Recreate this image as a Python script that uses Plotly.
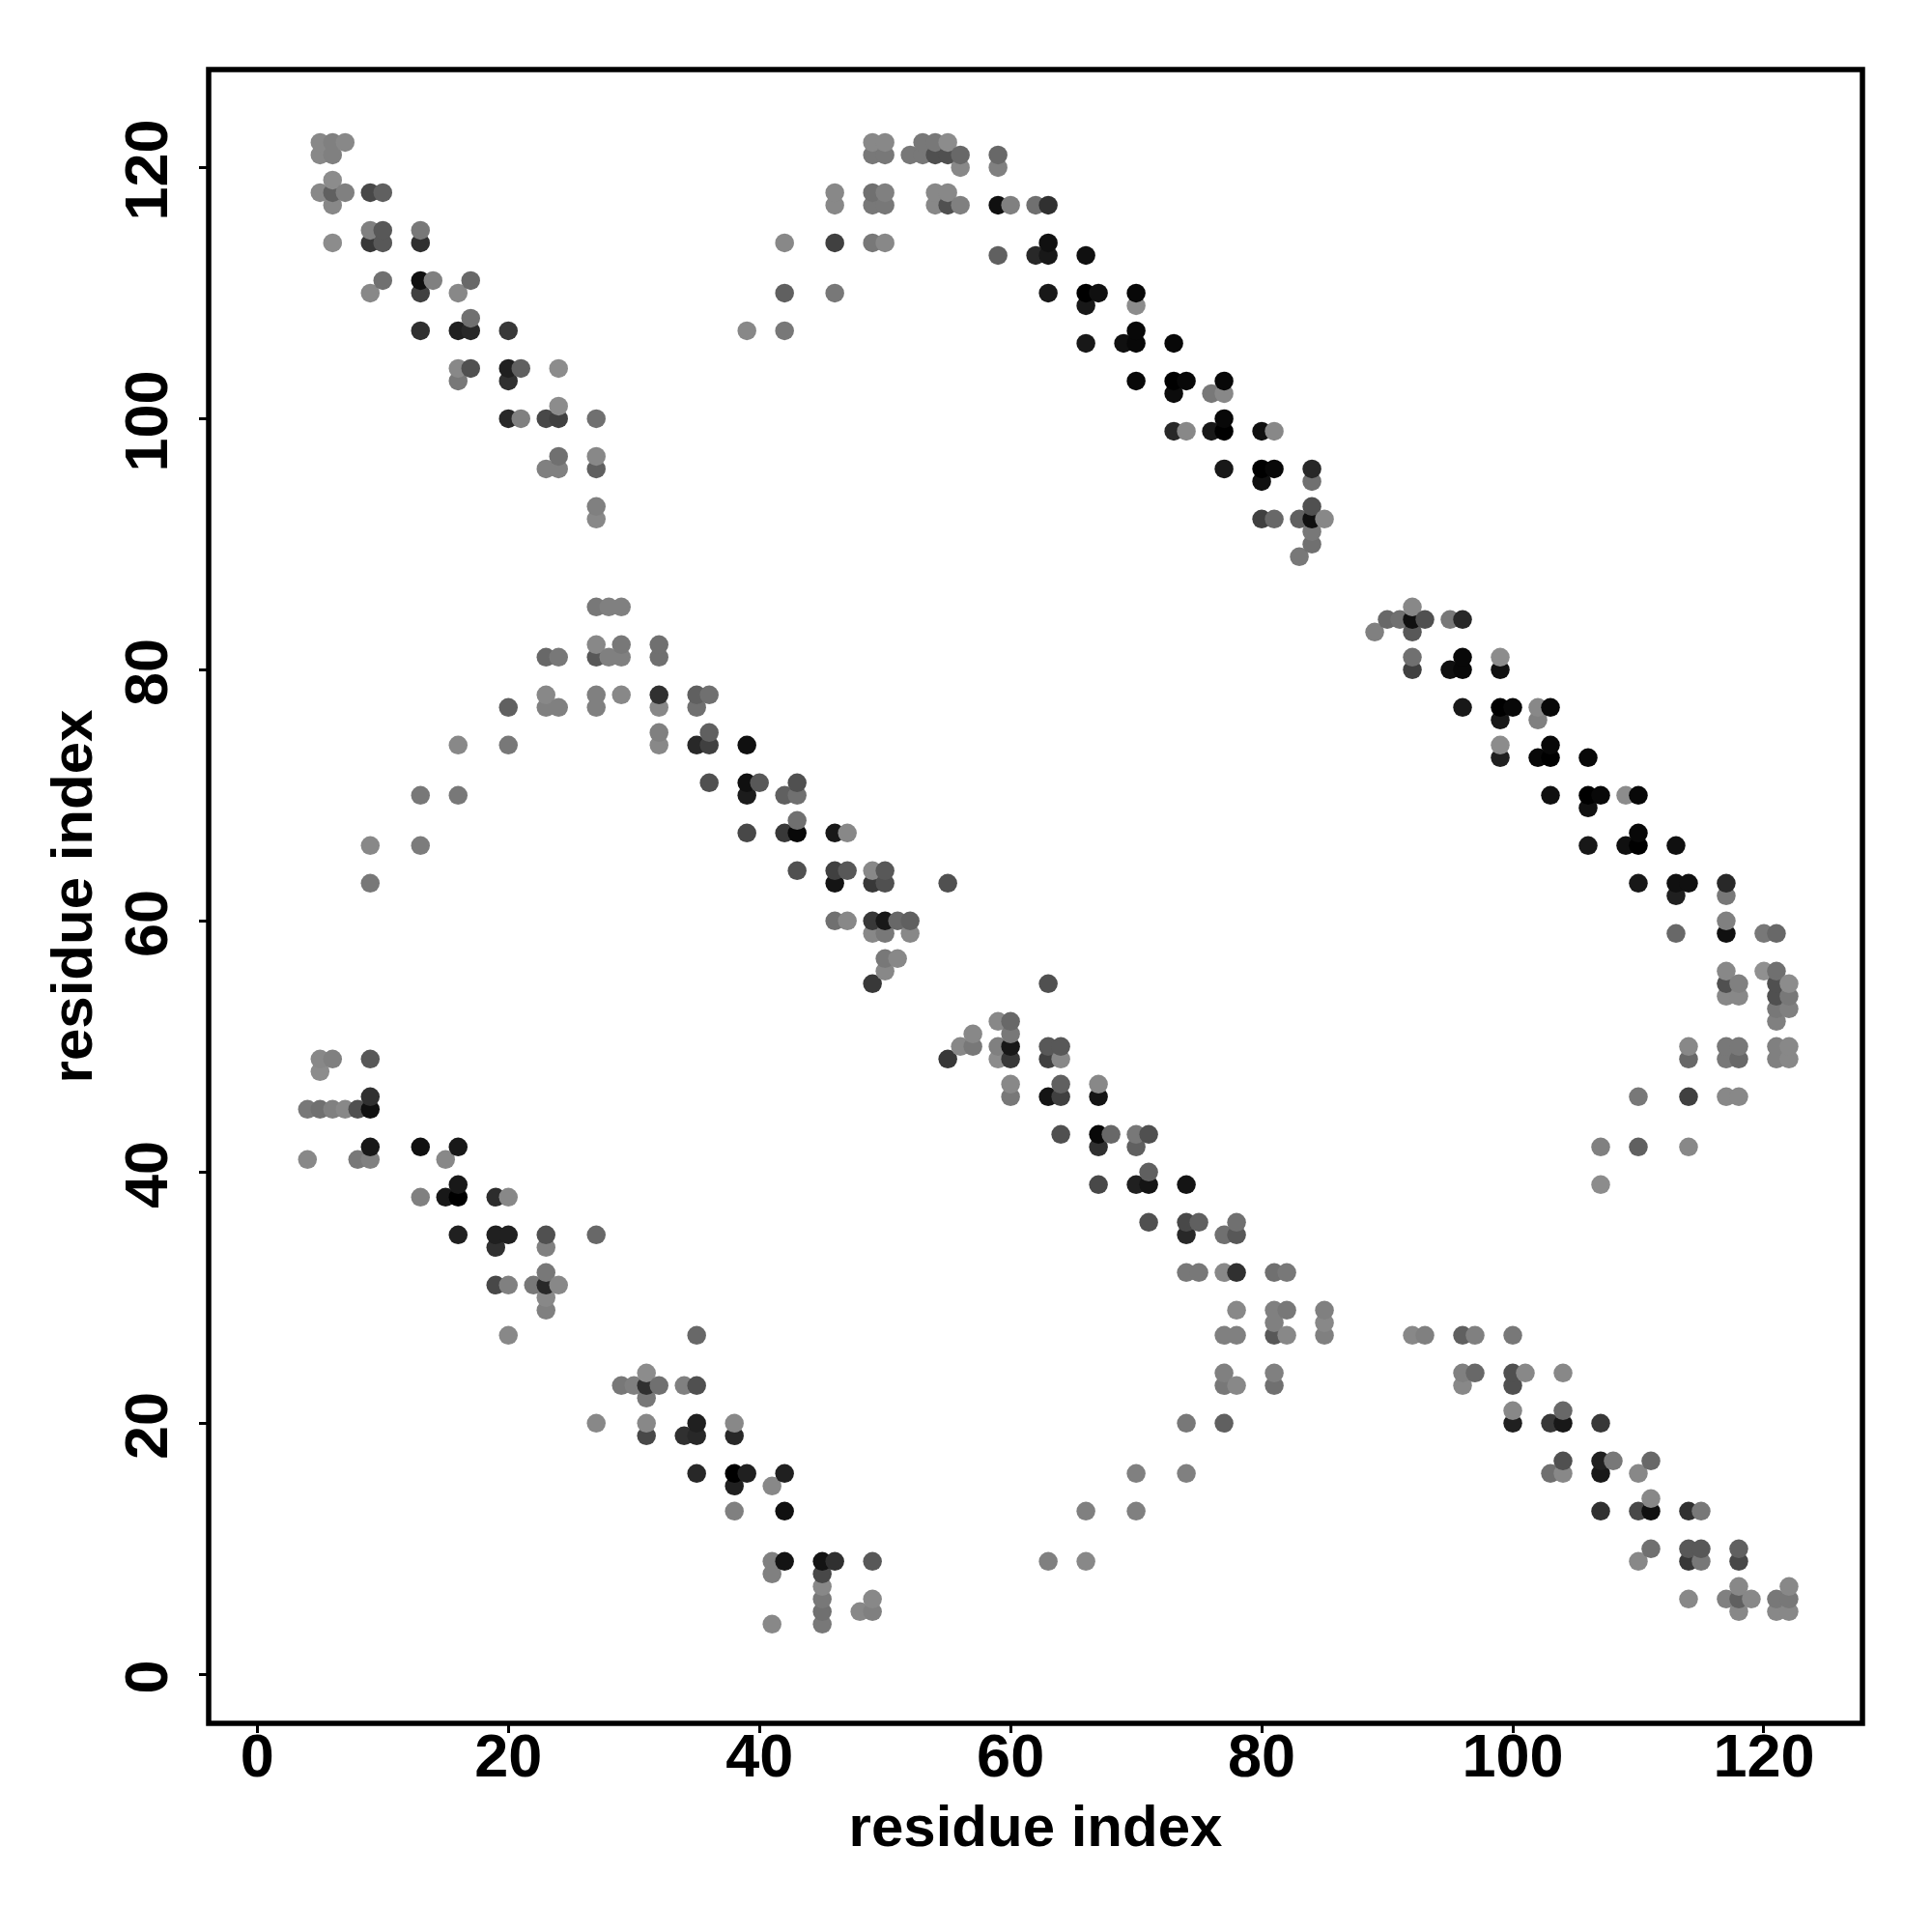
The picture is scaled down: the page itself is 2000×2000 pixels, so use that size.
import plotly.graph_objects as go

# contacts: (residue x, residue y, grey level)
upper_left = [
 (5,122,0x88),(6,122,0x80),(7,122,0x88),(5,121,0x88),(6,121,0x80),(6,119,0x8c),
 (5,118,0x88),(6,118,0x60),(7,118,0x80),(9,118,0x48),(10,118,0x60),(6,117,0x88),
 (9,115,0x80),(10,115,0x58),(13,115,0x78),(6,114,0x8c),(9,114,0x38),(10,114,0x58),(13,114,0x30),
 (10,111,0x70),(13,111,0x10),(14,111,0x80),(17,111,0x68),(9,110,0x88),(13,110,0x40),(16,110,0x88),
 (17,108,0x70),(13,107,0x30),(16,107,0x20),(17,107,0x28),(20,107,0x38),
 (16,104,0x88),(17,104,0x50),(20,104,0x20),(21,104,0x60),(24,104,0x8c),(16,103,0x78),(20,103,0x30),
 (24,101,0x8c),(20,100,0x28),(21,100,0x80),(23,100,0x48),(24,100,0x40),(27,100,0x70),
 (24,97,0x70),(27,97,0x88),(23,96,0x80),(24,96,0x80),(27,96,0x60),(27,93,0x80),(27,92,0x88),
]
upper_mid = [
 (49,122,0x88),(50,122,0x88),(53,122,0x78),(54,122,0x78),(55,122,0x8c),
 (49,121,0x78),(50,121,0x78),(52,121,0x78),(53,121,0x78),(54,121,0x50),(55,121,0x50),(56,121,0x68),(59,121,0x68),
 (56,120,0x88),(59,120,0x80),
 (46,118,0x88),(49,118,0x70),(50,118,0x80),(54,118,0x88),(55,118,0x88),
 (46,117,0x88),(49,117,0x78),(50,117,0x78),(54,117,0x88),(55,117,0x50),(56,117,0x80),(59,117,0x10),(60,117,0x80),(62,117,0x70),(63,117,0x30),
 (42,114,0x88),(46,114,0x40),(49,114,0x78),(50,114,0x88),(63,114,0x10),
 (59,113,0x60),(62,113,0x28),(63,113,0x18),(66,113,0x10),
 (42,110,0x60),(46,110,0x78),(63,110,0x18),(66,110,0x00),(67,110,0x10),(70,110,0x08),
 (66,109,0x18),(70,109,0x8c),(39,107,0x88),(42,107,0x78),(70,107,0x08),
 (66,106,0x18),(69,106,0x10),(70,106,0x08),(73,106,0x08),
 (70,103,0x08),(73,103,0x00),(74,103,0x08),(77,103,0x08),(73,102,0x0c),(76,102,0x78),(77,102,0x88),
 (77,100,0x08),(73,99,0x28),(74,99,0x88),(76,99,0x18),(77,99,0x00),(80,99,0x10),(81,99,0x88),
 (77,96,0x18),(80,96,0x00),(81,96,0x08),(84,96,0x28),(80,95,0x10),(84,95,0x70),(84,93,0x50),
 (80,92,0x40),(81,92,0x68),(83,92,0x60),(84,92,0x10),(85,92,0x88),(84,91,0x78),(84,90,0x70),(83,89,0x78),
]
right_band = [
 (92,85,0x88),(90,84,0x68),(91,84,0x70),(92,84,0x10),(93,84,0x50),(95,84,0x78),(96,84,0x28),
 (89,83,0x80),(92,83,0x58),(92,81,0x70),(96,81,0x08),(99,81,0x8c),
 (92,80,0x40),(95,80,0x10),(96,80,0x08),(99,80,0x10),
 (96,77,0x18),(99,77,0x00),(100,77,0x08),(102,77,0x88),(103,77,0x08),(99,76,0x18),(102,76,0x80),
 (99,74,0x8c),(103,74,0x08),(99,73,0x20),(102,73,0x08),(103,73,0x00),(106,73,0x08),
 (103,70,0x10),(106,70,0x00),(107,70,0x08),(109,70,0x8c),(110,70,0x08),(106,69,0x10),
 (110,67,0x08),(106,66,0x18),(109,66,0x10),(110,66,0x00),(113,66,0x10),
 (110,63,0x18),(113,63,0x10),(114,63,0x10),(117,63,0x28),(113,62,0x20),(117,62,0x78),(117,60,0x80),
 (113,59,0x68),(117,59,0x10),(120,59,0x78),(121,59,0x68),
 (117,56,0x88),(120,56,0x90),(121,56,0x70),(117,55,0x50),(118,55,0x80),(121,55,0x50),(122,55,0x8c),
 (117,54,0x88),(118,54,0x88),(121,54,0x50),(122,54,0x78),(121,53,0x78),(122,53,0x80),(121,52,0x80),
 (114,50,0x88),(117,50,0x78),(118,50,0x78),(121,50,0x80),(122,50,0x88),
 (114,49,0x68),(117,49,0x78),(118,49,0x68),(121,49,0x80),(122,49,0x88),
 (107,42,0x80),(110,42,0x60),(114,42,0x88),(110,46,0x78),(114,46,0x40),(117,46,0x88),(118,46,0x88),(107,39,0x8c),
]
mid_left = [
 (27,85,0x78),(28,85,0x80),(29,85,0x80),(27,82,0x88),(29,82,0x78),(32,82,0x70),
 (23,81,0x68),(24,81,0x78),(27,81,0x58),(28,81,0x80),(29,81,0x80),(32,81,0x70),
 (23,78,0x88),(27,78,0x80),(29,78,0x88),(32,78,0x30),(35,78,0x60),(36,78,0x70),
 (20,77,0x60),(23,77,0x80),(24,77,0x80),(27,77,0x80),(32,77,0x88),(35,77,0x70),
 (32,75,0x80),(36,75,0x60),(16,74,0x88),(20,74,0x78),(32,74,0x88),(35,74,0x28),(36,74,0x40),(39,74,0x10),
 (36,71,0x50),(39,71,0x10),(40,71,0x58),(43,71,0x50),(13,70,0x78),(16,70,0x78),(39,70,0x1c),(42,70,0x60),(43,70,0x70),
 (43,68,0x70),(39,67,0x48),(42,67,0x38),(43,67,0x08),(46,67,0x18),(47,67,0x88),(9,66,0x88),(13,66,0x7c),
 (43,64,0x50),(46,64,0x40),(47,64,0x58),(49,64,0x88),(50,64,0x58),(9,63,0x78),(46,63,0x14),(49,63,0x38),(50,63,0x50),(55,63,0x50),
 (46,60,0x70),(47,60,0x88),(49,60,0x38),(50,60,0x18),(51,60,0x68),(52,60,0x60),(49,59,0x88),(50,59,0x78),(52,59,0x88),
 (50,57,0x78),(51,57,0x88),(50,56,0x88),(49,55,0x38),
]
mid_center = [
 (63,55,0x50),(59,52,0x88),(60,52,0x68),(57,51,0x88),(60,51,0x78),
 (56,50,0x88),(57,50,0x78),(59,50,0x80),(60,50,0x18),(63,50,0x58),(64,50,0x58),
 (55,49,0x38),(59,49,0x8c),(60,49,0x38),(63,49,0x40),(64,49,0x88),
 (60,47,0x88),(64,47,0x60),(67,47,0x88),(60,46,0x78),(63,46,0x14),(64,46,0x40),(67,46,0x14),
 (64,43,0x50),(67,43,0x08),(68,43,0x68),(70,43,0x78),(71,43,0x50),(67,42,0x30),(70,42,0x60),(71,40,0x60),
 (67,39,0x48),(70,39,0x20),(71,39,0x14),(74,39,0x14),(71,36,0x50),(74,36,0x48),(75,36,0x60),(78,36,0x70),
 (74,35,0x28),(77,35,0x70),(78,35,0x58),(74,32,0x78),(75,32,0x78),(77,32,0x88),(78,32,0x30),(81,32,0x70),(82,32,0x78),
 (78,29,0x88),(81,29,0x80),(82,29,0x78),(85,29,0x80),(81,28,0x80),(85,28,0x88),
 (77,27,0x80),(78,27,0x80),(81,27,0x58),(82,27,0x88),(85,27,0x80),
 (77,24,0x80),(81,24,0x80),(77,23,0x78),(78,23,0x88),(81,23,0x70),(74,20,0x78),(77,20,0x60),
 (70,16,0x80),(74,16,0x80),(66,13,0x80),(70,13,0x80),(63,9,0x80),(66,9,0x88),
]
lower_left = [
 (5,49,0x88),(6,49,0x80),(9,49,0x58),(5,48,0x8c),(9,46,0x30),
 (4,45,0x78),(5,45,0x70),(6,45,0x80),(7,45,0x88),(8,45,0x50),(9,45,0x10),
 (9,42,0x18),(13,42,0x10),(16,42,0x18),(4,41,0x88),(8,41,0x78),(9,41,0x80),(15,41,0x88),
 (16,39,0x18),(13,38,0x80),(15,38,0x18),(16,38,0x00),(19,38,0x2c),(20,38,0x88),
 (16,35,0x20),(19,35,0x20),(20,35,0x20),(23,35,0x50),(27,35,0x68),(19,34,0x30),(23,34,0x80),
 (23,32,0x78),(19,31,0x48),(20,31,0x80),(22,31,0x78),(23,31,0x28),(24,31,0x88),(23,30,0x88),(23,29,0x80),(20,27,0x88),
 (35,27,0x68),(31,24,0x8c),(29,23,0x78),(30,23,0x80),(31,23,0x30),(32,23,0x70),(34,23,0x80),(35,23,0x50),(31,22,0x78),
 (27,20,0x88),(31,20,0x88),(35,20,0x20),(38,20,0x88),(31,19,0x48),(34,19,0x30),(35,19,0x28),(38,19,0x28),
 (35,16,0x28),(38,16,0x00),(39,16,0x20),(42,16,0x20),(38,15,0x20),(41,15,0x88),(38,13,0x80),(42,13,0x10),
 (41,9,0x80),(42,9,0x14),(45,9,0x14),(46,9,0x30),(49,9,0x58),(41,8,0x80),(45,8,0x48),(45,7,0x88),
 (45,6,0x78),(49,6,0x88),(45,5,0x70),(48,5,0x88),(49,5,0x80),(41,4,0x88),(45,4,0x78),
]
lower_right = [
 (92,27,0x88),(93,27,0x80),(96,27,0x60),(97,27,0x80),(100,27,0x78),
 (96,24,0x80),(97,24,0x68),(100,24,0x50),(101,24,0x88),(104,24,0x88),(96,23,0x88),(100,23,0x50),
 (100,21,0x88),(104,21,0x68),(100,20,0x20),(103,20,0x38),(104,20,0x18),(107,20,0x38),
 (104,17,0x50),(107,17,0x20),(108,17,0x78),(111,17,0x68),(103,16,0x70),(104,16,0x88),(107,16,0x18),(110,16,0x88),
 (111,14,0x88),(107,13,0x30),(110,13,0x48),(111,13,0x10),(114,13,0x30),(115,13,0x78),
 (111,10,0x70),(114,10,0x58),(115,10,0x58),(118,10,0x60),(110,9,0x88),(114,9,0x38),(115,9,0x78),(118,9,0x48),
 (118,7,0x88),(122,7,0x88),(114,6,0x88),(117,6,0x80),(118,6,0x60),(119,6,0x88),(121,6,0x78),(122,6,0x78),
 (118,5,0x88),(121,5,0x88),(122,5,0x88),
]
tick_values = [0, 20, 40, 60, 80, 100, 120]
axis_title = "residue index"

contacts = sorted(set(upper_left + upper_mid + right_band + mid_left + mid_center + lower_left + lower_right),
                  key=lambda p: (p[0], p[1]))
xs = [p[0] for p in contacts]
ys = [p[1] for p in contacts]
colors = [f"rgb({p[2]},{p[2]},{p[2]})" for p in contacts]

FONT = "Liberation Sans"
fig = go.Figure(go.Scatter(x=xs, y=ys, mode="markers",
                           marker=dict(size=19.5, color=colors, line=dict(width=0)),
                           hoverinfo="skip"))

def axis(**kw):
    return dict(tickmode="array", tickvals=tick_values, ticktext=[str(v) for v in tick_values],
                ticks="outside", ticklen=9, tickwidth=3, tickcolor="black",
                tickfont=dict(family=FONT, size=63, color="black", weight=700),
                showgrid=False, zeroline=False, showline=False,
                title=dict(text=axis_title, font=dict(family=FONT, size=60, color="black", weight=700)),
                **kw)

fig.update_layout(
    width=2000, height=2000, autosize=False,
    margin=dict(l=208, r=80, t=64, b=224, pad=0),
    paper_bgcolor="white", plot_bgcolor="white", showlegend=False,
    xaxis=axis(range=[-3.87, 127.85], tickangle=0),
    yaxis=axis(range=[-3.9, 127.8], tickangle=-90),
    shapes=[dict(type="rect", xref="paper", yref="paper", x0=0, x1=1, y0=0, y1=1,
                 line=dict(color="black", width=5.5), layer="above")],
)
fig.update_xaxes(title_standoff=18, ticklabelstandoff=-31)
fig.update_yaxes(title_standoff=0, ticklabelstandoff=8, ticklabelshift=12)
fig.write_html("out.html")
